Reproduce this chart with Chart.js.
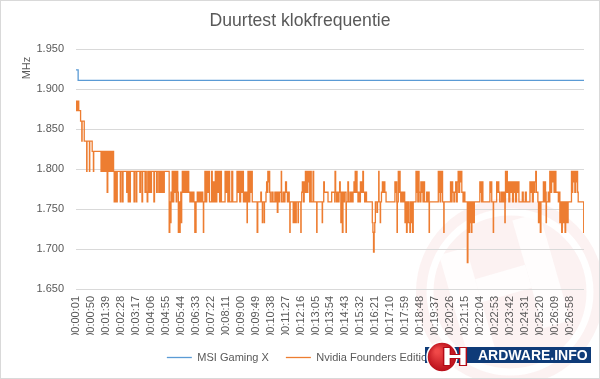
<!DOCTYPE html>
<html>
<head>
<meta charset="utf-8">
<script src="https://cdn.jsdelivr.net/npm/chart.js@4.4.1/dist/chart.umd.min.js"></script>
<style>
html,body{margin:0;padding:0;background:#fff;}
#wrap{width:600px;height:379px;position:relative;}
canvas{display:block;}
</style>
</head>
<body>
<div id="wrap"><canvas id="c" width="600" height="379"></canvas></div>
<script>
// ---------- DATA ----------
const chartTitle = 'Duurtest klokfrequentie';
const yAxisTitle = 'MHz';
const seriesNames = ['MSI Gaming X', 'Nvidia Founders Edition'];
const tickLabels = ['00:00:01','00:00:50','00:01:39','00:02:28','00:03:17','00:04:06','00:04:55','00:05:44',
  '00:06:33','00:07:22','00:08:11','00:09:00','00:09:49','00:10:38','00:11:27','00:12:16','00:13:05',
  '00:13:54','00:14:43','00:15:32','00:16:21','00:17:10','00:17:59','00:18:48','00:19:37','00:20:26',
  '00:21:15','00:22:04','00:22:53','00:23:42','00:24:31','00:25:20','00:26:09','00:26:58'];
const yTicks = [1650, 1700, 1750, 1800, 1850, 1900, 1950];
const testEndSecond = 1664;

// MSI Gaming X: seconds where the clock changes, and clock (MHz)
const msiTime = [1, 8, 1664];
const msiMHz  = [1924, 1911, 1911];

// Nvidia Founders Edition: seconds where the clock changes, and clock (MHz)
const nvTime = [
  1,2,3,5,6,8,9,10,16,20,21,28,36,37,45,46,54,58,59,
  83,85,87,89,91,93,95,97,99,101,103,105,107,109,111,113,116,118,120,122,124,
  126,128,130,132,134,136,146,148,153,155,167,169,172,174,178,179,191,193,198,200,
  210,212,217,219,227,229,231,234,236,238,240,242,244,246,248,256,258,
  265,267,272,274,276,278,282,284,288,290,
  306,308,310,312,314,316,319,321,324,326,329,331,334,
  336,338,340,342,344,345,347,349,352,354,358,360,364,366,370,
  374,377,380,384,387,390,394,398,402,406,410,414,416,418,419,
  423,426,429,432,435,438,445,447,451,453,457,459,
  462,465,468,471,474,477,489,492,495,498,501,504,511,514,
  528,531,534,537,540,543,546,549,552,555,558,
  561,562,564,567,570,573,576,578,594,596,
  606,608,611,612,617,618,623,625,627,629,631,633,635,637,642,646,
  652,656,658,660,662,666,668,673,674,679,683,685,687,690,693,695,699,701,702,
  712,713,716,717,721,722,728,729,737,738,
  740,742,744,746,748,750,752,754,756,758,760,762,764,766,770,771,777,779,
  789,790,807,808,812,814,826,838,848,849,851,854,856,860,862,864,866,
  868,869,873,875,878,880,885,886,891,893,
  898,901,903,906,908,911,913,915,917,919,921,924,926,929,
  932,934,936,938,940,942,946,948,952,
  971,973,975,977,979,981,986,988,992,993,997,998,
  1001,1004,1006,1010,1012,1016,1045,1047,1049,1051,1052,1053,
  1056,1058,1060,1062,1064,1066,1070,1073,1077,
  1078,1080,1083,1085,1087,1089,1091,1094,1096,1098,1100,1103,1105,
  1114,1116,1118,1120,1122,1124,1127,1130,1132,1135,1137,1140,1142,
  1149,1152,1155,1157,1158,1187,1189,1191,1193,1195,1197,1199,1201,1205,1206,
  1227,1229,1232,1234,1238,1240,1244,1246,1249,
  1252,1254,1257,1259,1262,1264,1268,1270,1274,1282,1284,
  1287,1289,1291,1293,1295,1297,1299,1301,1302,1305,
  1323,1325,1327,1329,1331,1333,1356,1358,1360,1362,1367,1368,
  1378,1380,1383,1385,1388,1393,1396,1400,1403,1405,1406,1407,1409,1411,
  1413,1416,1418,1421,1424,1427,1430,1433,1436,1438,1440,1443,1445,1448,1451,
  1462,1465,1472,1475,1487,1489,1492,1495,1498,1500,1503,1506,1508,
  1513,1515,1517,1519,1521,1523,1531,1533,1536,1538,1540,1541,1547,1549,
  1552,1555,1558,1560,1563,1566,1569,1572,1580,1583,
  1585,1587,1589,1591,1593,1595,1597,1600,1602,1604,1606,1608,1610,1612,
  1623,1625,1627,1629,1632,1634,1637,1639,1641,1643,1645,1663,1664
];
const nvMHz = [
  1885,1873,1885,1873,1885,1873,1885,1873,1860,1835,1860,1835,1797,1835,1797,1835,1822,1797,1822,
  1797,1822,1797,1822,1797,1822,1797,1822,1797,1822,1771,1822,1797,1822,1797,1822,1797,1822,1797,1822,1797,
  1759,1797,1759,1797,1759,1797,1759,1797,1759,1797,1771,1797,1759,1797,1759,1797,1759,1797,1759,1797,
  1771,1797,1759,1797,1771,1797,1771,1759,1797,1771,1797,1771,1797,1771,1797,1759,1797,
  1771,1797,1771,1797,1771,1797,1771,1797,1771,1797,
  1721,1759,1733,1771,1759,1797,1759,1797,1771,1797,1759,1797,1771,
  1721,1759,1721,1746,1771,1733,1771,1797,1771,1797,1771,1797,1771,1797,1771,
  1759,1771,1759,1771,1759,1721,1759,1771,1759,1771,1759,1771,1759,1721,1759,
  1797,1759,1797,1771,1797,1759,1797,1759,1784,1759,1797,1759,
  1797,1771,1797,1759,1797,1759,1797,1771,1797,1759,1797,1759,1797,1759,
  1797,1771,1797,1759,1797,1771,1797,1759,1771,1759,1771,
  1733,1759,1797,1759,1797,1771,1797,1759,1721,1759,
  1771,1759,1733,1759,1733,1759,1771,1784,1771,1797,1784,1797,1771,1759,1771,1759,
  1771,1759,1771,1746,1771,1759,1771,1797,1759,1771,1759,1771,1784,1771,1759,1771,1759,1721,1759,
  1733,1759,1733,1759,1733,1759,1733,1759,1721,1759,
  1771,1784,1771,1759,1784,1771,1797,1771,1797,1771,1797,1784,1797,1759,1797,1759,1797,1759,
  1721,1759,1733,1759,1784,1771,1759,1771,1759,1797,1771,1759,1771,1759,1771,1784,1771,
  1733,1771,1721,1771,1759,1771,1721,1759,1784,1759,
  1771,1759,1771,1759,1771,1784,1771,1797,1771,1797,1771,1759,1771,1759,
  1784,1771,1784,1771,1797,1771,1759,1771,1759,
  1733,1721,1696,1721,1733,1759,1746,1759,1797,1759,1733,1759,
  1771,1784,1771,1784,1771,1759,1784,1771,1784,1759,1721,1759,
  1797,1771,1797,1771,1759,1771,1759,1771,1759,
  1733,1759,1721,1759,1733,1759,1733,1721,1759,1733,1759,1721,1759,
  1797,1771,1797,1759,1797,1771,1759,1784,1771,1784,1759,1784,1759,
  1771,1759,1771,1721,1759,1797,1771,1797,1759,1797,1771,1797,1759,1721,1759,
  1784,1759,1784,1771,1759,1771,1784,1759,1784,
  1797,1771,1797,1784,1797,1771,1759,1771,1759,1683,1759,
  1721,1759,1733,1759,1721,1759,1733,1759,1733,1759,
  1784,1771,1784,1759,1784,1759,1784,1771,1784,1759,1721,1759,
  1784,1771,1784,1771,1759,1771,1759,1771,1759,1733,1759,1797,1771,1797,
  1771,1784,1759,1784,1771,1784,1759,1784,1771,1784,1759,1784,1771,1784,1759,
  1771,1759,1771,1759,1784,1771,1784,1759,1784,1771,1784,1797,1771,
  1759,1733,1759,1733,1721,1759,1784,1759,1784,1771,1733,1759,1771,1759,
  1797,1771,1797,1784,1797,1771,1797,1771,1759,1771,
  1733,1759,1733,1721,1759,1733,1759,1733,1721,1759,1733,1759,1733,1759,
  1797,1771,1797,1784,1797,1771,1797,1784,1797,1771,1759,1721,1721
];

// ---------- HELPERS ----------
const FONT = 'Liberation Sans';
const GREY = '#595959';
const toSec = s => { const p = s.split(':').map(Number); return p[0]*3600 + p[1]*60 + p[2]; };
const tickSecs = tickLabels.map(toSec);
const pairs = (t, v) => t.slice(0, Math.min(t.length, v.length)).map((x, i) => ({x: x, y: v[i]}));
const fmtMHz = v => { const s = String(v); return s.length > 3 ? s.slice(0, s.length-3) + '.' + s.slice(-3) : s; };

const decorPlugin = {
  id: 'decor',
  beforeDraw(chart) {
    const ctx = chart.ctx;
    ctx.save();
    // faint watermark
    const cx = 510, cy = 292;
    ctx.fillStyle = 'rgba(215,70,70,0.07)';
    ctx.beginPath(); ctx.arc(cx, cy, 94, 0, Math.PI*2); ctx.fill();
    ctx.strokeStyle = '#ffffff'; ctx.lineWidth = 7;
    ctx.beginPath(); ctx.arc(cx, cy, 80, 0, Math.PI*2); ctx.stroke();
    ctx.translate(cx, cy); ctx.rotate(-0.28);
    ctx.fillStyle = 'rgba(255,255,255,0.85)';
    ctx.fillRect(-58, -55, 28, 112);
    ctx.fillRect(22, -68, 28, 112);
    ctx.fillRect(-30, -22, 52, 24);
    ctx.restore();
  },
  afterDraw(chart) {
    const ctx = chart.ctx;
    ctx.save();
    // y axis title placed at the top of the axis
    ctx.fillStyle = GREY;
    ctx.font = '11px ' + FONT;
    ctx.textAlign = 'center'; ctx.textBaseline = 'middle';
    ctx.save(); ctx.translate(27, 68); ctx.rotate(-Math.PI/2); ctx.fillText(yAxisTitle, 0, 0); ctx.restore();
    // outer border
    ctx.strokeStyle = '#d9d9d9'; ctx.lineWidth = 1;
    ctx.strokeRect(0.5, 0.5, 599, 378);
    // logo
    ctx.fillStyle = '#0e3b78';
    ctx.fillRect(425, 347, 166, 16);
    const g = ctx.createRadialGradient(437, 351, 2, 442, 357, 16);
    g.addColorStop(0, '#f04848'); g.addColorStop(1, '#b40a16');
    ctx.fillStyle = g;
    ctx.beginPath(); ctx.arc(442, 357, 15, 0, Math.PI*2); ctx.fill();
    ctx.strokeStyle = '#ffffff'; ctx.lineWidth = 1.5; ctx.stroke();
    ctx.fillStyle = '#ffffff';
    ctx.textBaseline = 'middle'; ctx.textAlign = 'center';
    ctx.save();
    ctx.translate(455, 358); ctx.scale(1.5, 1);
    ctx.font = 'bold 24px ' + FONT;
    ctx.strokeStyle = '#b40a16'; ctx.lineWidth = 2; ctx.strokeText('H', 0, 0);
    ctx.fillText('H', 0, 0);
    ctx.restore();
    ctx.textAlign = 'left';
    ctx.font = 'bold 14px ' + FONT;
    ctx.fillText('ARDWARE.INFO', 478, 356);
    ctx.restore();
  }
};

new Chart(document.getElementById('c'), {
  type: 'line',
  data: {
    datasets: [
      { label: seriesNames[0], data: pairs(msiTime, msiMHz), borderColor: '#5B9BD5', backgroundColor: '#5B9BD5',
        borderWidth: 1.3, pointRadius: 0, stepped: 'before', fill: false },
      { label: seriesNames[1], data: pairs(nvTime, nvMHz), borderColor: '#ED7D31', backgroundColor: '#ED7D31',
        borderWidth: 1.3, pointRadius: 0, stepped: 'before', fill: false }
    ]
  },
  options: {
    responsive: false,
    animation: false,
    layout: { padding: { left: 16, right: 16, top: 0, bottom: 6 } },
    plugins: {
      title: { display: true, text: chartTitle, color: GREY,
        font: { family: FONT, size: 17.6, weight: 'normal' }, padding: { top: 11, bottom: 17 } },
      legend: { position: 'bottom',
        labels: { usePointStyle: true, pointStyle: 'line', pointStyleWidth: 25, color: GREY,
          font: { family: FONT, size: 11 }, padding: 17 } },
      tooltip: { enabled: false }
    },
    scales: {
      x: {
        type: 'linear', min: 1, max: testEndSecond,
        grid: { display: false, drawTicks: false }, border: { display: false },
        ticks: { autoSkip: false, minRotation: 90, maxRotation: 90, padding: 7, color: GREY,
          font: { family: FONT, size: 11 }, callback: (v, i) => tickLabels[i] },
        afterBuildTicks: s => { s.ticks = tickSecs.map(v => ({ value: v })); },
        afterFit: s => { s.height = 46; }
      },
      y: {
        min: yTicks[0], max: yTicks[yTicks.length-1],
        grid: { color: '#d9d9d9', drawTicks: false }, border: { display: false },
        ticks: { color: GREY, padding: 12, font: { family: FONT, size: 11 }, callback: v => fmtMHz(v) },
        afterBuildTicks: s => { s.ticks = yTicks.map(v => ({ value: v })); },
        afterFit: s => { s.width = 60; }
      }
    }
  },
  plugins: [decorPlugin]
});
</script>
</body>
</html>
